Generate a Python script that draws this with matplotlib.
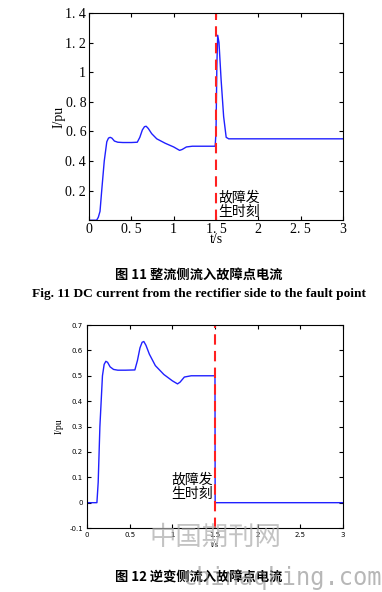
import matplotlib
matplotlib.use("Agg")
import matplotlib.pyplot as plt

plt.rcParams['font.family'] = ['Liberation Serif', 'Noto Sans CJK SC', 'DejaVu Sans']

# Fig. 11 - rectifier side current
t1 = [0, 0.09, 0.11, 0.13, 0.15, 0.18, 0.21, 0.23, 0.25, 0.27, 0.30, 0.34, 0.40, 0.50, 0.57,
      0.60, 0.63, 0.655, 0.675, 0.70, 0.74, 0.80, 0.90, 1.00, 1.07, 1.10, 1.15, 1.22, 1.35, 1.49,
      1.50, 1.51, 1.52, 1.535, 1.56, 1.59, 1.62, 1.65, 1.80, 3.0]
i1 = [0, 0, 0.02, 0.06, 0.2, 0.4, 0.53, 0.555, 0.56, 0.555, 0.535, 0.527, 0.525, 0.525, 0.527,
      0.56, 0.61, 0.632, 0.635, 0.62, 0.585, 0.55, 0.52, 0.495, 0.472, 0.478, 0.495, 0.5, 0.5, 0.5,
      0.6, 1.05, 1.25, 1.2, 0.95, 0.7, 0.56, 0.55, 0.55, 0.55]

# Fig. 12 - inverter side current
t2 = [0, 0.115, 0.13, 0.15, 0.18, 0.20, 0.22, 0.24, 0.27, 0.31, 0.36, 0.45, 0.56,
      0.59, 0.62, 0.645, 0.665, 0.69, 0.73, 0.80, 0.90, 1.00, 1.06, 1.09, 1.14, 1.22, 1.35, 1.499,
      1.501, 1.6, 3.0]
i2 = [0, 0, 0.08, 0.3, 0.5, 0.545, 0.557, 0.553, 0.535, 0.525, 0.522, 0.522, 0.523,
      0.56, 0.61, 0.632, 0.635, 0.62, 0.585, 0.54, 0.505, 0.48, 0.468, 0.475, 0.495, 0.5, 0.5, 0.5,
      0.0, 0.0, 0.0]

fault_t = 1.5
xticks = [0, 0.5, 1, 1.5, 2, 2.5, 3]
xlabels1 = ['0', '0. 5', '1', '1. 5', '2', '2. 5', '3']
xlabels2 = ['0', '0.5', '1', '1.5', '2', '2.5', '3']
yticks1 = [0.2, 0.4, 0.6, 0.8, 1.0, 1.2, 1.4]
ylabels1 = ['0. 2', '0. 4', '0. 6', '0. 8', '1', '1. 2', '1. 4']
yticks2 = [-0.1, 0, 0.1, 0.2, 0.3, 0.4, 0.5, 0.6, 0.7]
ylabels2 = ['-0.1', '0', '0.1', '0.2', '0.3', '0.4', '0.5', '0.6', '0.7']
note = '故障发\n生时刻'

fig = plt.figure(figsize=(3.82, 5.92), dpi=100)

ax1 = fig.add_axes([0.233, 0.628, 0.665, 0.350])
ax1.plot(t1, i1, color='#2020ff', lw=1.0)
ax1.axvline(fault_t, color='#ff2020', lw=1.5, ls=(0, (5, 3)))
ax1.set_xlim(0, 3)
ax1.set_ylim(0, 1.4)
ax1.set_xticks(xticks)
ax1.set_xticklabels(xlabels1, fontsize=10)
ax1.set_yticks(yticks1)
ax1.set_yticklabels(ylabels1, fontsize=10)
ax1.tick_params(direction='in', top=True, right=True, length=3, pad=2)
ax1.set_xlabel('t/s', fontsize=10, labelpad=-2)
ax1.set_ylabel('I/pu', fontsize=10, labelpad=0)
ax1.text(1.53, 0.01, note, fontsize=10, family=['Noto Sans CJK SC'], ha='left', va='bottom',
         linespacing=1.05)

fig.text(0.52, 0.535, '图 11 整流侧流入故障点电流', ha='center', va='center', fontsize=9.5,
         family=['Noto Sans CJK SC'], weight='bold')
fig.text(0.52, 0.503, 'Fig. 11 DC current from the rectifier side to the fault point', ha='center',
         va='center', fontsize=9.6, family=['Liberation Serif'], weight='bold')

ax2 = fig.add_axes([0.228, 0.108, 0.670, 0.343])
ax2.plot(t2, i2, color='#2020ff', lw=1.0)
ax2.axvline(fault_t, color='#ff2020', lw=1.5, ls=(0, (5, 3)))
ax2.set_xlim(0, 3)
ax2.set_ylim(-0.1, 0.7)
ax2.set_xticks(xticks)
ax2.set_xticklabels(xlabels2, fontsize=5, family=['DejaVu Sans'])
ax2.set_yticks(yticks2)
ax2.set_yticklabels(ylabels2, fontsize=5, family=['DejaVu Sans'])
ax2.tick_params(direction='in', top=True, right=True, length=3, pad=3)
ax2.set_xlabel('t/s', fontsize=6, labelpad=2)
ax2.set_ylabel('I/pu', fontsize=7, labelpad=4)
ax2.text(1.47, 0.005, note, fontsize=10, family=['Noto Sans CJK SC'], ha='right', va='bottom',
         linespacing=1.05)

fig.text(0.52, 0.024, '图 12 逆变侧流入故障点电流', ha='center', va='center', fontsize=9.5,
         family=['Noto Sans CJK SC'], weight='bold')

# watermark of the source site
fig.text(0.565, 0.093, '中国期刊网', ha='center', va='center', fontsize=19,
         family=['Noto Sans CJK SC'], weight='light', color='#aaaaaa', alpha=0.7)
fig.text(1.0, 0.024, 'chinaqking.com', ha='right', va='center', fontsize=17,
         family=['DejaVu Sans Mono'], color='#888888', alpha=0.6)

fig.savefig('out.png', dpi=100)
